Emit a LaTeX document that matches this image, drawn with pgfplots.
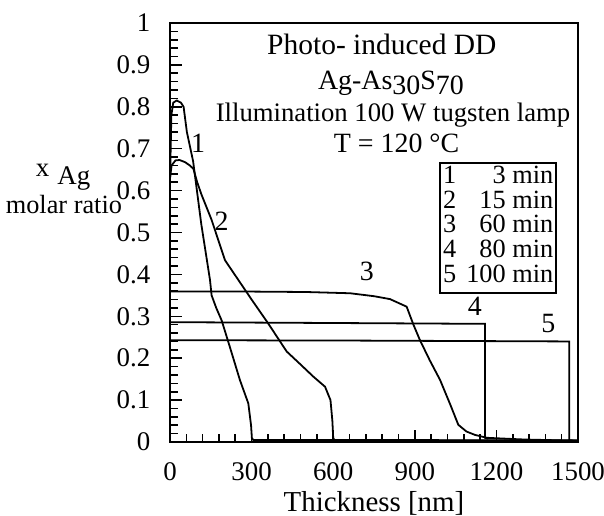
\documentclass[border=0pt]{standalone}
\usepackage{pgfplots}
\pgfplotsset{compat=1.18}
\usepackage{fontspec}
\setmainfont{Liberation Serif}
\begin{document}
\fontsize{14}{16}\selectfont
\begin{tikzpicture}
\useasboundingbox (-85bp,-37bp) rectangle (217bp,221bp);
\begin{axis}[
  at={(0,0)}, anchor=south west,
  scale only axis, width=204bp, height=209.5bp,
  xmin=0, xmax=1500, ymin=0, ymax=1,
  clip=false,
  xtick={0,300,...,1500}, minor x tick num=4,
  ytick={0,0.1,...,1.01}, minor y tick num=4,
  tick pos=left, tick align=inside,
  major tick length=6bp, minor tick length=4bp,
  axis line style={line width=0.8pt},
  every tick/.style={line width=0.8pt, black},
  /pgf/number format/assume math mode=true,
  /pgf/number format/1000 sep={},
  /pgf/number format/fixed,
  tick label style={font=\fontsize{13.5}{15}\selectfont},
  xticklabel style={yshift=-5.5bp},
  yticklabel style={xshift=-5bp},
  xlabel={Thickness [nm]},
  xlabel style={font=\fontsize{14.5}{16}\selectfont, yshift=4bp},
]
% curve 1 (3 min)
\addplot[black, line width=0.9pt] coordinates {(0,0.62) (5,0.78) (12,0.81) (25,0.815) (40,0.81) (50,0.80) (62,0.74) (85,0.67) (115,0.52) (147,0.387) (153,0.35) (170,0.32) (190,0.29) (220,0.227) (257,0.148) (288,0.092) (298,0.04) (301,0.01) (306,0.005) (1500,0.004)};
% curve 2 (15 min)
\addplot[black, line width=0.9pt] coordinates {(0,0.63) (6,0.66) (20,0.672) (35,0.673) (55,0.668) (73,0.66) (86,0.652) (100,0.62) (116,0.59) (153,0.53) (202,0.434) (251,0.387) (300,0.34) (361,0.283) (429,0.216) (480,0.185) (527,0.156) (570,0.132) (590,0.10) (597,0.05) (600,0.01) (605,0.004) (1500,0.003)};
% curve 3 (60 min)
\addplot[black, line width=0.9pt] coordinates {(0,0.359) (300,0.359) (500,0.358) (662,0.355) (750,0.348) (809,0.341) (870,0.323) (895,0.28) (919,0.243) (955,0.195) (993,0.148) (1030,0.09) (1060,0.041) (1090,0.025) (1121,0.017) (1165,0.01) (1300,0.006) (1495,0.003)};
% curve 4 (80 min)
\addplot[black, line width=0.9pt] coordinates {(0,0.286) (600,0.284) (1158,0.282) (1158,0.01) (1170,0.008)};
% curve 5 (100 min)
\addplot[black, line width=0.9pt] coordinates {(0,0.243) (700,0.242) (1468,0.240) (1468,0.004) (1495,0.002)};

\node at (axis cs:103,0.713) {1};
\node at (axis cs:190,0.526) {2};
\node at (axis cs:724,0.406) {3};
\node at (axis cs:1121,0.323) {4};
\node at (axis cs:1391,0.283) {5};

\node[anchor=base, font=\fontsize{14.8}{16}\selectfont] at (axis cs:779,0.924) {Photo- induced DD};
\node[anchor=base] at (axis cs:812,0.842) {Ag-As\raisebox{-0.4ex}{30}S\raisebox{-0.4ex}{70}};
\node[anchor=base, font=\fontsize{13.4}{16}\selectfont] at (axis cs:820,0.764) {Illumination 100 W tugsten lamp};
\node[anchor=base] at (axis cs:833,0.690) {T = 120 °C};

\node[draw, line width=0.8pt, inner sep=1.5bp, anchor=north east, font=\fontsize{13.2}{14}\selectfont] at (axis cs:1423,0.668)
  {\renewcommand{\arraystretch}{0.88}\setlength{\tabcolsep}{1pt}%
   \begin{tabular}{@{}l@{\hspace{5bp}}r@{}}
   1 & 3 min\\ 2 & 15 min\\ 3 & 60 min\\ 4 & 80 min\\ 5 & 100 min
   \end{tabular}};

\node[font=\fontsize{13.5}{15}\selectfont] at (rel axis cs:-0.262,0.632) {x\hspace{4bp}\raisebox{-0.6ex}{Ag}};
\node[font=\fontsize{13.2}{15}\selectfont] at (rel axis cs:-0.260,0.566) {molar ratio};
\end{axis}
\end{tikzpicture}
\end{document}
